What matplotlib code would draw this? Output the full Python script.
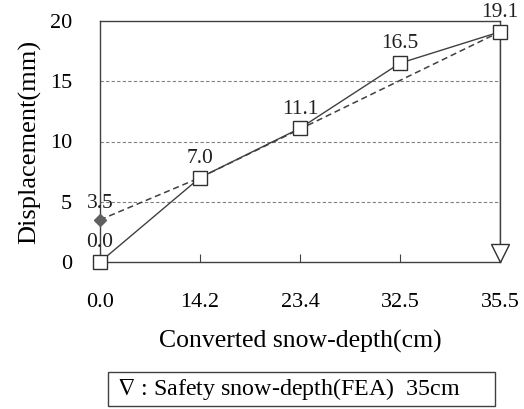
import numpy as np
import matplotlib.pyplot as plt
from matplotlib.patches import Rectangle

plt.rcParams['font.family'] = ['Liberation Serif', 'DejaVu Serif']
plt.rcParams['mathtext.fontset'] = 'stix'

depth_labels = ['0.0', '14.2', '23.4', '32.5', '35.5']
disp = [0.0, 7.0, 11.1, 16.5, 19.1]
# dashed reference line (from 3.5 at zero depth)
ref_pos = [0, 1, 4]
ref_disp = [3.5, 7.0, 19.1]
safety_pos = 4
safety_marker = 0.75

pos = np.arange(len(depth_labels))

fig = plt.figure(figsize=(5.24, 4.09), dpi=100)
ax = fig.add_axes([100/524, 1-262/409, 400/524, 241/409])

for y in [5, 10, 15]:
    ax.axhline(y, color='#808080', linestyle=(0, (3, 2)), linewidth=0.8, zorder=1)

ax.plot(ref_pos, ref_disp, color='#404040', linestyle=(0, (4, 2.5)), linewidth=1.1, zorder=2)
ax.plot([0], [ref_disp[0]], marker='D', color='#606060', markersize=6, linestyle='none',
        zorder=4, clip_on=False)
ax.plot([safety_pos, safety_pos], [0, disp[-1]], color='#404040', linewidth=1.0, zorder=2)
ax.plot([safety_pos], [safety_marker], marker='v', markersize=13, markerfacecolor='white',
        markeredgecolor='#303030', linestyle='none', zorder=4, clip_on=False)
ax.plot(pos, disp, color='#404040', linewidth=1.0, marker='s', markersize=10,
        markerfacecolor='white', markeredgecolor='#303030', zorder=3, clip_on=False)

for p, v in zip(pos, disp):
    ax.annotate(f'{v:.1f}', (p, v), xytext=(0, 7), textcoords='offset points',
                ha='center', va='bottom', fontsize=15.5, color='#202020')
ax.annotate(f'{ref_disp[0]:.1f}', (0, ref_disp[0]), xytext=(0, 5), textcoords='offset points',
            ha='center', va='bottom', fontsize=15.5, color='#202020')

ax.set_xlim(0, 4)
ax.set_ylim(0, 20)
ax.set_xticks(pos)
ax.set_xticklabels(depth_labels)
ax.set_yticks([0, 5, 10, 15, 20])
ax.tick_params(axis='x', direction='in', length=6, pad=22, labelsize=16, color='#404040')
ax.tick_params(axis='y', length=0, pad=20, labelsize=16)
for s in ax.spines.values():
    s.set_color('#404040')
    s.set_linewidth(1.0)

ax.set_ylabel('Displacement(mm)', fontsize=19, labelpad=6)
ax.set_xlabel('Converted snow-depth(cm)', fontsize=18.5, labelpad=13)

# note box under the chart
fig.patches.append(Rectangle((108/524, 1-406/409), 387/524, 34/409, transform=fig.transFigure,
                             facecolor='white', edgecolor='#404040', linewidth=1.0))
fig.text(117/524, 1-389/409, r'$\nabla$ : Safety snow-depth(FEA)  35cm', fontsize=17.3,
         ha='left', va='center')

fig.savefig('out.png', dpi=100)
